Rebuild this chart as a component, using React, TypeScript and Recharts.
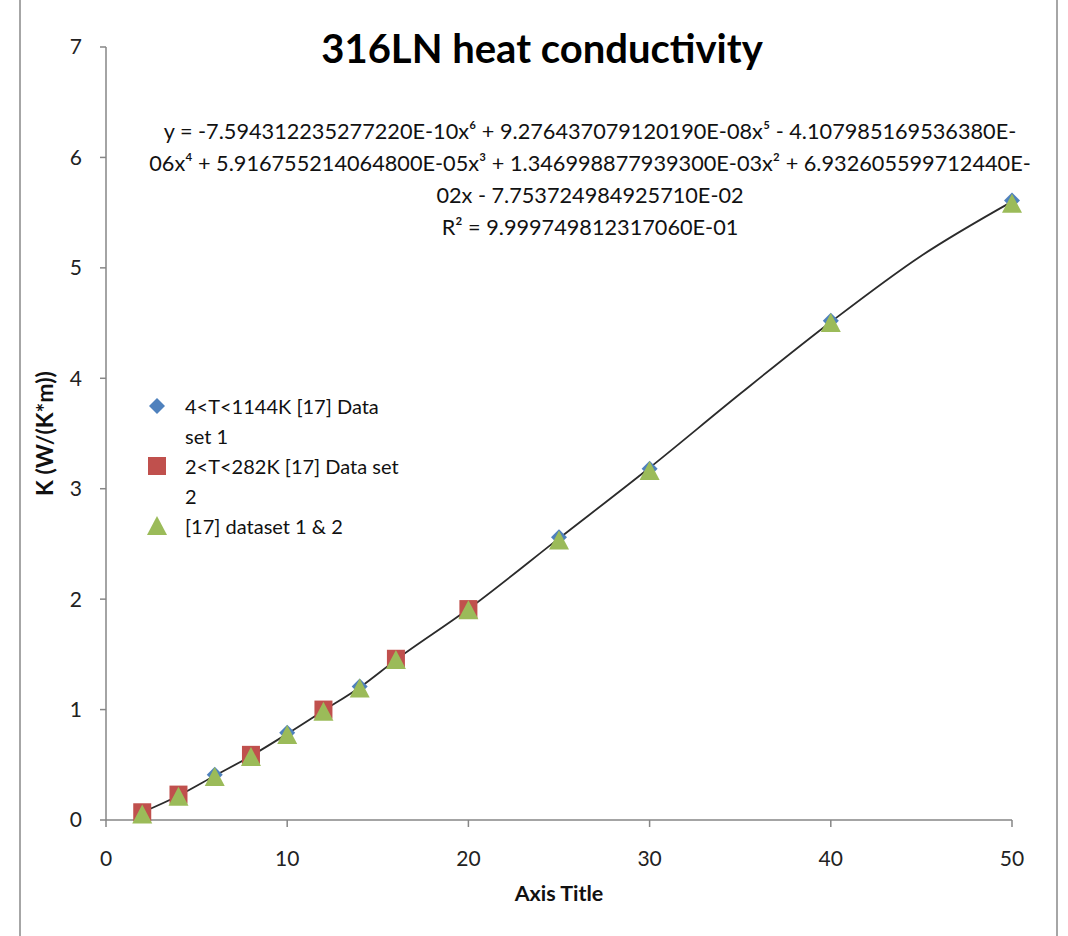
import React from 'react';
import { ComposedChart, Scatter, Line, XAxis, YAxis, Legend } from 'recharts';

const set1X = [6, 10, 14, 25, 30, 40, 50];
const set1Y = [0.41, 0.79, 1.21, 2.56, 3.18, 4.52, 5.61];

const set2X = [2, 4, 8, 12, 16, 20];
const set2Y = [0.07, 0.23, 0.59, 1.0, 1.46, 1.91];

const set3X = [2, 4, 6, 8, 10, 12, 14, 16, 20, 25, 30, 40, 50];
const set3Y = [0.05, 0.21, 0.39, 0.57, 0.77, 0.98, 1.19, 1.45, 1.9, 2.53, 3.16, 4.5, 5.58];

// trend line
const trendX = [2, 4, 6, 8, 10, 12, 14, 16, 20, 25, 30, 35, 40, 45, 50];
const trendY = [0.07, 0.22, 0.4, 0.58, 0.78, 0.99, 1.2, 1.45, 1.91, 2.55, 3.19, 3.86, 4.51, 5.11, 5.6];

const xTicks = [0, 10, 20, 30, 40, 50];
const yTicks = [0, 1, 2, 3, 4, 5, 6, 7];

const seriesNames = ['4<T<1144K [17] Data set 1', '2<T<282K [17] Data set 2', '[17] dataset 1 & 2'];
const legendLines = [['4<T<1144K [17] Data', 'set 1'], ['2<T<282K [17] Data set', '2'], ['[17] dataset 1 & 2']];

const equationLines = [
  'y = -7.594312235277220E-10x⁶ + 9.276437079120190E-08x⁵ - 4.107985169536380E-',
  '06x⁴ + 5.916755214064800E-05x³ + 1.346998877939300E-03x² + 6.932605599712440E-',
  '02x - 7.753724984925710E-02',
  'R² = 9.999749812317060E-01',
];

const toPoints = (xs: number[], ys: number[]) => xs.map((x, i) => ({ x, y: ys[i] }));

const BLUE = '#4F81BD';
const RED = '#C0504D';
const GREEN = '#9BBB59';
const FONT = "Lato, 'Noto Sans', sans-serif";

const Diamond = (props: any) => {
  const { cx, cy } = props;
  const r = 8;
  return <polygon points={`${cx},${cy - r} ${cx + r},${cy} ${cx},${cy + r} ${cx - r},${cy}`} fill={BLUE} />;
};

const Square = (props: any) => {
  const { cx, cy } = props;
  return <rect x={cx - 9} y={cy - 9} width={18} height={18} fill={RED} />;
};

const Triangle = (props: any) => {
  const { cx, cy } = props;
  return <polygon points={`${cx},${cy - 10} ${cx + 10},${cy + 9} ${cx - 10},${cy + 9}`} fill={GREEN} />;
};

const markerIcons = [
  <svg width={20} height={20}><polygon points="10,2 18,10 10,18 2,10" fill={BLUE} /></svg>,
  <svg width={20} height={20}><rect x={1} y={1} width={18} height={18} fill={RED} /></svg>,
  <svg width={20} height={20}><polygon points="10,0 20,19 0,19" fill={GREEN} /></svg>,
];

const LegendBox = () => (
  <div style={{ fontFamily: FONT, fontSize: 20, color: '#111' }}>
    {legendLines.map((lines, i) => (
      <div key={i} style={{ display: 'flex', alignItems: 'flex-start' }}>
        <div style={{ width: 38, height: 30, display: 'flex', alignItems: 'center' }}>{markerIcons[i]}</div>
        <div>
          {lines.map((l, j) => (
            <div key={j} style={{ height: 30, lineHeight: '30px', whiteSpace: 'nowrap' }}>{l}</div>
          ))}
        </div>
      </div>
    ))}
  </div>
);

const App: React.FC = () => {
  const tickStyle = { fontSize: 21, fill: '#222', fontFamily: FONT };
  return (
    <div style={{ position: 'absolute', left: 0, top: 0, width: 1068, height: 936, background: '#fff' }}>
      <div style={{ position: 'absolute', left: 19, top: 0, width: 2, height: 936, background: '#a6a6a6' }} />
      <div style={{ position: 'absolute', left: 1056, top: 0, width: 2, height: 936, background: '#a6a6a6' }} />
      <div
        style={{
          position: 'absolute', left: 0, width: 1068, top: 24, textAlign: 'center',
          fontFamily: FONT, fontWeight: 700, fontSize: 40, color: '#000', paddingLeft: 8,
        }}
      >
        316LN heat conductivity
      </div>
      <div
        style={{
          position: 'absolute', left: 130, width: 920, top: 115, textAlign: 'center',
          fontFamily: FONT, fontSize: 21.7, lineHeight: '32px', color: '#111',
        }}
      >
        {equationLines.map((l, i) => (
          <div key={i} style={{ whiteSpace: 'nowrap' }}>{l}</div>
        ))}
      </div>
      <ComposedChart width={1068} height={936} margin={{ top: 47, right: 56, bottom: 0, left: 0 }}>
        <XAxis
          type="number"
          dataKey="x"
          domain={[0, 50]}
          ticks={xTicks}
          height={116}
          tick={tickStyle}
          tickSize={7}
          tickMargin={24}
          stroke="#868686"
          strokeWidth={1.5}
          label={{ value: 'Axis Title', position: 'center', dy: 15, style: { fontSize: 21.5, fontWeight: 700, fill: '#111', fontFamily: FONT } }}
        />
        <YAxis
          type="number"
          dataKey="y"
          domain={[0, 7]}
          ticks={yTicks}
          width={106}
          tick={tickStyle}
          tickSize={6}
          tickMargin={18}
          stroke="#868686"
          strokeWidth={1.5}
          label={{ value: 'K (W/(K*m))', angle: -90, position: 'center', dx: -8, style: { fontSize: 23, fontWeight: 700, fill: '#111', fontFamily: FONT } }}
        />
        <Legend
          layout="vertical"
          align="center"
          verticalAlign="middle"
          content={() => <LegendBox />}
          wrapperStyle={{ left: 147, top: 391, width: 320 }}
        />
        <Scatter name={seriesNames[0]} data={toPoints(set1X, set1Y)} shape={<Diamond />} isAnimationActive={false} />
        <Scatter name={seriesNames[1]} data={toPoints(set2X, set2Y)} shape={<Square />} isAnimationActive={false} />
        <Scatter name={seriesNames[2]} data={toPoints(set3X, set3Y)} shape={<Triangle />} isAnimationActive={false} />
        <Line
          data={toPoints(trendX, trendY)}
          dataKey="y"
          type="monotone"
          stroke="#2b2b2b"
          strokeWidth={1.8}
          dot={false}
          activeDot={false}
          legendType="none"
          isAnimationActive={false}
        />
      </ComposedChart>
    </div>
  );
};

export default App;
